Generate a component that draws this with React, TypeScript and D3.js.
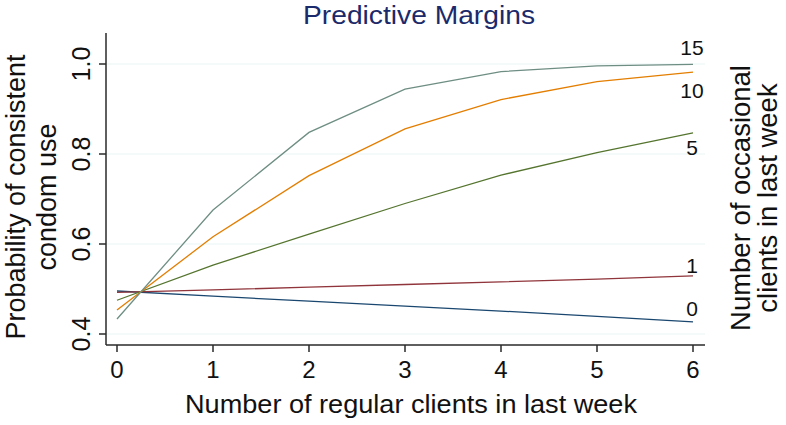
import React from "react";
import * as d3 from "d3";

const xValues = [0, 1, 2, 3, 4, 5, 6];
const seriesNames = ["0", "1", "5", "10", "15"];
const series0 = [0.4956, 0.484, 0.473, 0.462, 0.451, 0.439, 0.427];
const series1 = [0.4926, 0.498, 0.504, 0.510, 0.516, 0.522, 0.529];
const series5 = [0.475, 0.553, 0.622, 0.69, 0.753, 0.803, 0.847];
const series10 = [0.4533, 0.616, 0.752, 0.856, 0.921, 0.961, 0.982];
const series15 = [0.4333, 0.6756, 0.848, 0.944, 0.983, 0.996, 0.999];
const seriesColors = ["#1a476f", "#90353b", "#55752f", "#e37e00", "#6e8e84"];
const labelDy = [-13, -11, 15, 18, -17];
const yTicks = [0.4, 0.6, 0.8, 1.0];
const xTicks = [0, 1, 2, 3, 4, 5, 6];

export default function App() {
  const W = 786, H = 425;
  const x = d3.scaleLinear().domain([0, 6]).range([117, 693]);
  const y = d3.scaleLinear().domain([0.4, 1.0]).range([334, 64]);
  const xMin = x.invert(106), xMax = x.invert(705);
  const yMin = y.invert(345), yMax = y.invert(33);
  const all = [series0, series1, series5, series10, series15];
  const line = d3.line<number>().x((_, i) => x(xValues[i])).y((d) => y(d));
  const font = "'Liberation Sans', Arial, Helvetica, sans-serif";
  return (
    <svg width={W} height={H} style={{ position: "absolute", left: 0, top: 0, background: "#fff" }} fontFamily={font}>
      <rect x={0} y={0} width={W} height={H} fill="#fff" />
      {yTicks.map((t) => (
        <line key={"g" + t} x1={x(xMin)} x2={x(xMax)} y1={y(t)} y2={y(t)} stroke="#eaf3f4" strokeWidth={1.2} />
      ))}
      {all.map((s, i) => (
        <path key={i} d={line(s) || ""} fill="none" stroke={seriesColors[i]} strokeWidth={1.3} />
      ))}
      {/* axes */}
      <line x1={x(xMin)} x2={x(xMin)} y1={y(yMin)} y2={y(yMax)} stroke="#2a2a2a" strokeWidth={1.5} />
      <line x1={x(xMin)} x2={x(xMax)} y1={y(yMin)} y2={y(yMin)} stroke="#2a2a2a" strokeWidth={1.5} />
      {yTicks.map((t) => (
        <g key={"y" + t}>
          <line x1={x(xMin) - 7} x2={x(xMin)} y1={y(t)} y2={y(t)} stroke="#2a2a2a" strokeWidth={1.5} />
          <text transform={`translate(90,${y(t)}) rotate(-90)`} textAnchor="middle" fontSize={25} fill="#111">
            {d3.format(".1f")(t)}
          </text>
        </g>
      ))}
      {xTicks.map((t) => (
        <g key={"x" + t}>
          <line x1={x(t)} x2={x(t)} y1={y(yMin)} y2={y(yMin) + 7} stroke="#2a2a2a" strokeWidth={1.5} />
          <text x={x(t)} y={378} textAnchor="middle" fontSize={24} fill="#111">
            {t}
          </text>
        </g>
      ))}
      {all.map((s, i) => (
        <text key={"l" + i} x={x(6) - 1} y={y(s[6]) + labelDy[i]} dy="0.36em" textAnchor="middle" fontSize={21} fill="#111">
          {seriesNames[i]}
        </text>
      ))}
      <text x={419} y={24} textAnchor="middle" fontSize={25} textLength={232} lengthAdjust="spacingAndGlyphs" fill="#1b2a6b">Predictive Margins</text>
      <text x={411} y={413} textAnchor="middle" fontSize={26} textLength={452} lengthAdjust="spacingAndGlyphs" fill="#111">Number of regular clients in last week</text>
      <text transform="translate(25,197) rotate(-90)" textAnchor="middle" fontSize={27} fill="#111">Probability of consistent</text>
      <text transform="translate(56,197) rotate(-90)" textAnchor="middle" fontSize={27} fill="#111">condom use</text>
      <text transform="translate(750,198) rotate(-90)" textAnchor="middle" fontSize={27.5} fill="#111">Number of occasional</text>
      <text transform="translate(777,198) rotate(-90)" textAnchor="middle" fontSize={27.5} fill="#111">clients in last week</text>
    </svg>
  );
}
